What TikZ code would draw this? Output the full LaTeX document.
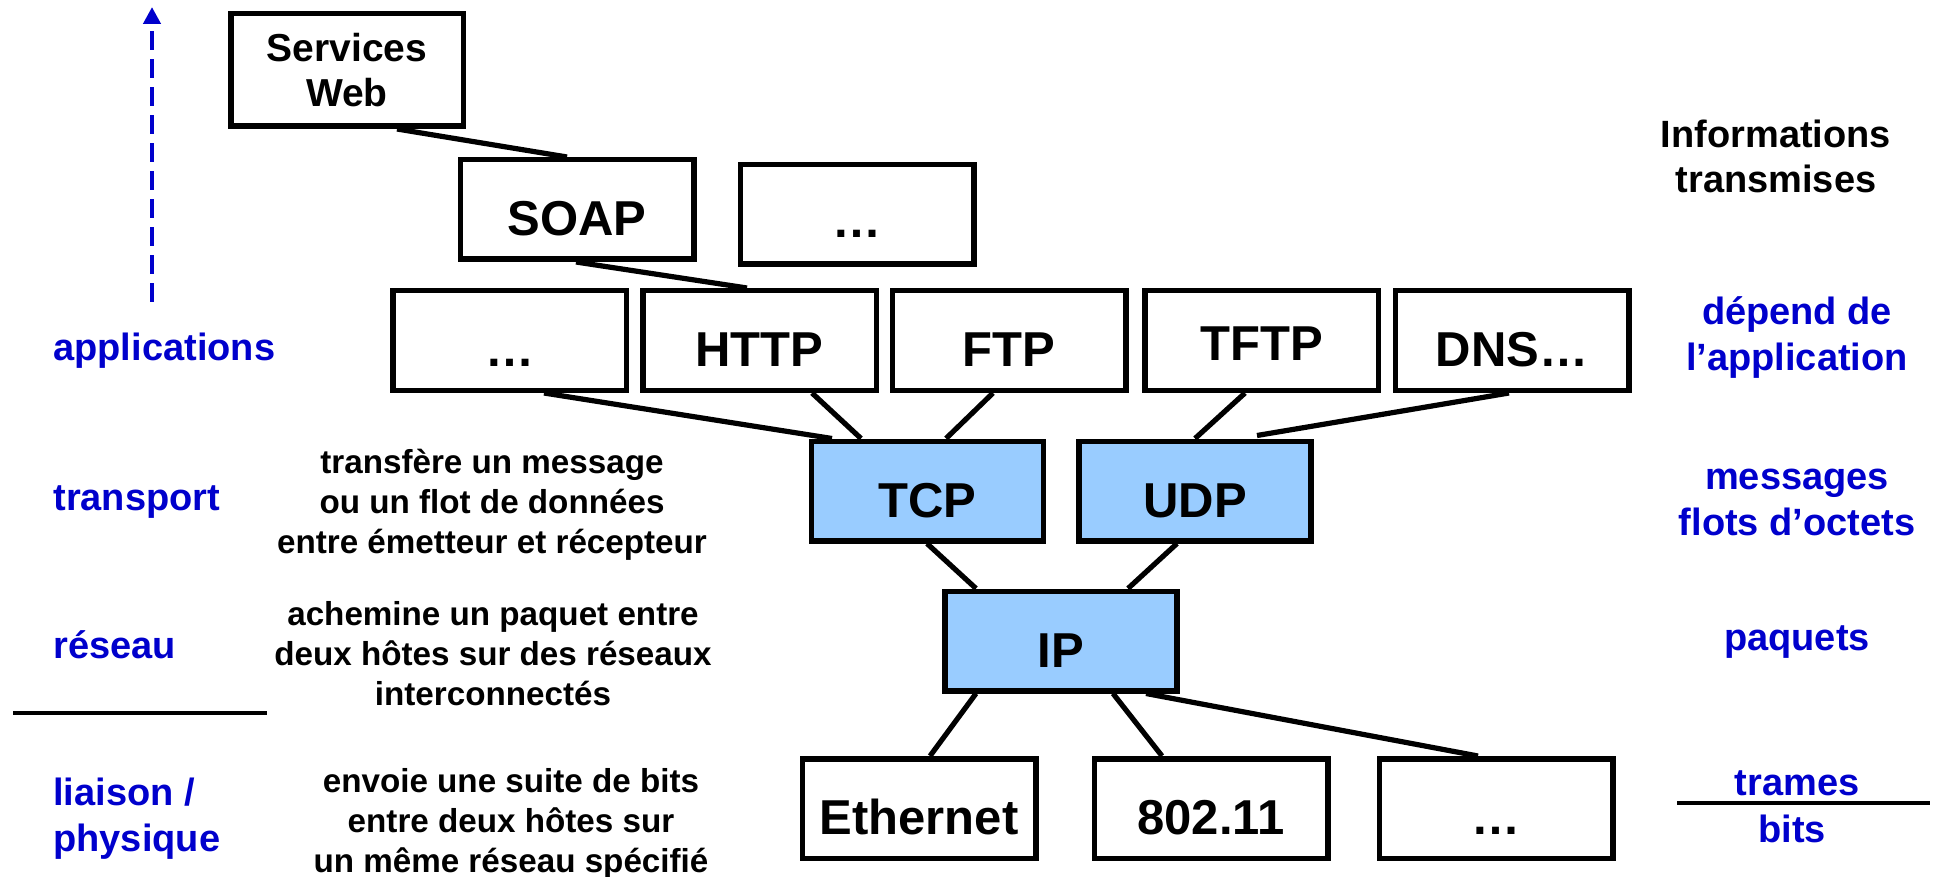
\documentclass[tikz,border=0pt]{standalone}
\usepackage{fontspec}
\setmainfont{Liberation Sans}
\usetikzlibrary{arrows.meta,calc}
\definecolor{lblue}{RGB}{0,0,204}
\definecolor{protofill}{RGB}{153,204,255}
\newcommand{\mlc}[1]{\begin{tabular}[t]{@{}c@{}}#1\end{tabular}}
\newcommand{\mll}[1]{\begin{tabular}[t]{@{}l@{}}#1\end{tabular}}
\begin{document}
\begin{tikzpicture}[x=0.5pt,y=-0.5pt,
  layerbox/.style={draw, line width=2.75pt, minimum width=116.75pt, minimum height=49.75pt, inner sep=0pt, text height=26pt, text depth=0pt, font=\fontsize{24.5}{29}\selectfont\bfseries},
  protobox/.style={layerbox, fill=protofill, minimum width=116pt},
  link/.style={line width=2.6pt},
  lbl/.style={inner sep=0pt, anchor=base, font=\fontsize{19}{23}\selectfont\bfseries},
  lefttag/.style={lbl, anchor=base west, text=lblue},
  righttag/.style={lbl, text=lblue},
  desc/.style={inner sep=0pt, anchor=base, font=\fontsize{16.6}{20.2}\selectfont\bfseries},
  rule/.style={line width=1.6pt}
]
\useasboundingbox (0,0) rectangle (1933,877);

% boxes
\node[layerbox, minimum height=56.25pt, minimum width=116.25pt, text height=0pt, text depth=8pt, font=\fontsize{19.5}{22.5}\selectfont\bfseries] (sw) at (347,70) {\mlc{Services\\Web}};
\node[layerbox] (soap) at (577,209.5) {SOAP};
\node[layerbox, text height=23.5pt] (dotsT) at (857,214.5) {…};
\node[layerbox] (appd) at (509.5,340.5) {…};
\node[layerbox] (http) at (759.5,340.5) {HTTP};
\node[layerbox] (ftp) at (1009,340.5) {FTP};
\node[layerbox, text height=19.5pt] (tftp) at (1261.5,340.5) {TFTP};
\node[layerbox] (dns) at (1512,340.5) {DNS…};
\node[protobox] (tcp) at (927.5,491) {TCP};
\node[protobox] (udp) at (1195,491) {UDP};
\node[protobox] (ip) at (1061,641) {IP};
\node[layerbox] (eth) at (919,808.5) {Ethernet};
\node[layerbox] (wifi) at (1211,808.5) {802.11};
\node[layerbox] (dotsB) at (1496,808.5) {…};

% connectors
\draw[link] ($(sw.south)+(50,0)$) -- ($(soap.north)+(-10,0)$);
\draw[link] ($(soap.south)+(-1,0)$) -- ($(http.north)+(-12.5,0)$);
\draw[link] ($(appd.south)+(34.5,0)$) -- ($(tcp.north)+(-95.5,0)$);
\draw[link] ($(http.south)+(52.5,0)$) -- ($(tcp.north)+(-66.5,0)$);
\draw[link] ($(ftp.south)+(-16,0)$) -- ($(tcp.north)+(18.5,0)$);
\draw[link] ($(tftp.south)+(-16.5,0)$) -- ($(udp.north)+(0,0)$);
\draw[link] ($(dns.south)+(-3,0)$) -- ($(udp.north)+(62,-3)$);
\draw[link] ($(tcp.south)+(-0.5,0)$) -- ($(ip.north)+(-85,0)$);
\draw[link] ($(udp.south)+(-18,0)$) -- ($(ip.north)+(67,0)$);
\draw[link] ($(ip.south)+(-85,0)$) -- ($(eth.north)+(11,0)$);
\draw[link] ($(ip.south)+(52,0)$) -- ($(wifi.north)+(-49,0)$);
\draw[link] ($(ip.south)+(85,0)$) -- ($(dotsB.north)+(-18,0)$);

% blue dashed arrow
\coordinate (arrowfoot) at (152,302);
\coordinate (arrowtip) at (152,7);
\draw[lblue, line width=2.2pt, dash pattern=on 9.5pt off 4.5pt, -{Triangle[length=8.5pt,width=8.5pt]}] (arrowfoot) -- (arrowtip);

% rules
\coordinate (ruleLa) at (13,713);
\coordinate (ruleLb) at (267,713);
\draw[rule] (ruleLa) -- (ruleLb);
\coordinate (ruleRa) at (1677,803);
\coordinate (ruleRb) at (1930,803);
\draw[rule] (ruleRa) -- (ruleRb);

% left labels
\node[lefttag] (tApp) at (53,360) {applications};
\node[lefttag] (tTrans) at (53,510) {transport};
\node[lefttag] (tRes) at (53,658) {réseau};
\node[lefttag] (tLiai) at (53,805) {\mll{liaison /\\physique}};

% descriptions
\node[desc] (dTrans) at (492,473) {\mlc{transfère un message\\ou un flot de données\\entre émetteur et récepteur}};
\node[desc] (dRes) at (493,625) {\mlc{achemine un paquet entre\\deux hôtes sur des réseaux\\interconnectés}};
\node[desc] (dLiai) at (511,792) {\mlc{envoie une suite de bits\\entre deux hôtes sur\\un même réseau spécifié}};

% right labels
\node[lbl, font=\fontsize{19}{22.5}\selectfont\bfseries] (info) at (1776,148) {\mlc{Informations\\transmises}};
\node[righttag] (iApp) at (1797,325) {\mlc{dépend de\\l’application}};
\node[righttag] (iTrans) at (1797,489) {\mlc{messages\\flots d’octets}};
\node[righttag] (iRes) at (1797,650) {paquets};
\node[righttag] (iTrames) at (1797,795) {trames};
\node[righttag] (iBits) at (1792,842) {bits};
\end{tikzpicture}
\end{document}
